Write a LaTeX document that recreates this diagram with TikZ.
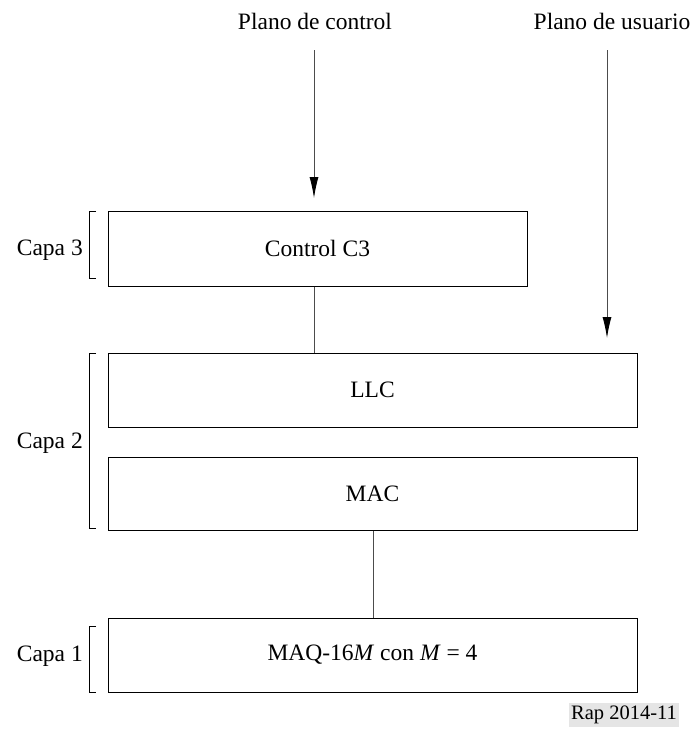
\documentclass[tikz,border=0pt]{standalone}
\usepackage{fontspec}
\setmainfont{Liberation Serif}
\usetikzlibrary{arrows.meta,calc}
\begin{document}
\begin{tikzpicture}[x=1pt,y=-1pt,
  every node/.style={font=\fontsize{23.5}{28}\selectfont},
  layerbox/.style={draw,line width=1pt,inner sep=0pt},
  conn/.style={draw,line width=0.9pt,black!70},
  arr/.style={conn,-{Latex[length=21pt,width=9pt,fill=black,color=black]}},
  brk/.style={draw,line width=0.9pt},
  lbl/.style={anchor=east,inner sep=0pt}]
\useasboundingbox (0,0) rectangle (693,742);
\node[layerbox,minimum width=419pt,minimum height=75pt] (c3) at (317.5,248.5) {Control C3};
\node[layerbox,minimum width=529pt,minimum height=74pt] (llc) at (372.5,390) {LLC};
\node[layerbox,minimum width=529pt,minimum height=73pt] (mac) at (372.5,493.5) {MAC};
\node[layerbox,minimum width=529pt,minimum height=74pt] (maq) at (372.5,655) {MAQ-16\textit{M} con \textit{M} = 4};
\node (pc) at (315,21) {Plano de control};
\node (pu) at (612,21) {Plano de usuario};
\coordinate (pcs) at (314,50);
\coordinate (pce) at (314,198);
\coordinate (pus) at (607,50);
\coordinate (pue) at (607,338);
\draw[arr] (pcs) -- (pce);
\draw[arr] (pus) -- (pue);
\draw[conn] (c3.south -| pcs) -- (llc.north -| pcs);
\coordinate (mx) at (373,0);
\draw[conn] (mac.south -| mx) -- (maq.north -| mx);
\coordinate (b3t) at (89,211); \coordinate (b3b) at (89,278);
\coordinate (b2t) at (89,353); \coordinate (b2b) at (89,528);
\coordinate (b1t) at (89,626); \coordinate (b1b) at (89,692);
\draw[brk] (b3t) ++(7,0) -- (b3t) -- (b3b) -- ++(7,0);
\draw[brk] (b2t) ++(7,0) -- (b2t) -- (b2b) -- ++(7,0);
\draw[brk] (b1t) ++(7,0) -- (b1t) -- (b1b) -- ++(7,0);
\node[lbl] (l3) at (83,250) {Capa 3};
\node[lbl] (l2) at (83,443) {Capa 2};
\node[lbl] (l1) at (83,656) {Capa 1};
\node[fill=black!10,inner xsep=2pt,inner ysep=3pt,font=\fontsize{20.5}{24}\selectfont] (rap) at (624,715) {Rap 2014-11};
\end{tikzpicture}
\end{document}
